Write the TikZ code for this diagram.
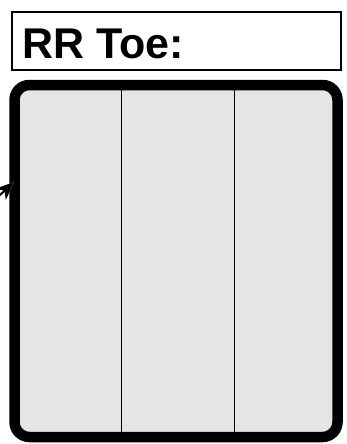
\documentclass[tikz,border=0pt]{standalone}
\usepackage{fontspec}
\setmainfont{Liberation Sans}
\usetikzlibrary{arrows.meta}
\definecolor{panelgray}{HTML}{E5E5E5}
\tikzset{
  titlebox/.style={draw=black, line width=2pt, fill=white},
  panel/.style={draw=black, line width=10.5pt, fill=panelgray, rounded corners=15pt},
  divider/.style={draw=black, line width=1pt},
  pointerhalo/.style={draw=white, line width=2pt, -{Stealth[length=18pt,width=15pt,inset=5pt,line width=2.5pt]}},
  pointer/.style={draw=black, line width=2pt, -{Stealth[length=18pt,width=15pt,inset=5pt]}}
}
\begin{document}
\begin{tikzpicture}[x=1pt,y=-1pt]
\useasboundingbox (0,0) rectangle (347,444);
\draw[titlebox] (12,12) rectangle (341,70);
\node[anchor=base west, inner sep=0pt, font=\fontsize{43}{43}\selectfont\bfseries] (title) at (22,59) {RR Toe:};
\draw[panel] (14.5,85) rectangle (337.5,437);
\coordinate (d1t) at (121,90);
\coordinate (d1b) at (121,432);
\coordinate (d2t) at (234,90);
\coordinate (d2b) at (234,432);
\draw[divider] (d1t) -- (d1b);
\draw[divider] (d2t) -- (d2b);
\coordinate (ptail) at (-12,206);
\coordinate (ptip) at (14,182);
\draw[pointerhalo] (ptail) -- (ptip);
\draw[pointer] (ptail) -- (ptip);
\end{tikzpicture}
\end{document}
